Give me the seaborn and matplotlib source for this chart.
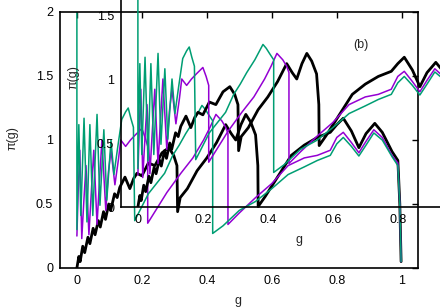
import matplotlib
matplotlib.use("Agg")

import matplotlib.pyplot as plt
import seaborn as sns

# the same curves are drawn in panel (a) and in the shifted panel (b)
teal_g = [0.0, 0.0, 0.006, 0.012, 0.022, 0.031, 0.040, 0.049, 0.062, 0.071, 0.083, 0.092,
          0.105, 0.114, 0.126, 0.138, 0.150, 0.158, 0.166, 0.174, 0.178, 0.200, 0.220, 0.245,
          0.270, 0.295, 0.315, 0.335, 0.360, 0.385, 0.395, 0.405, 0.418, 0.418, 0.450, 0.500,
          0.550, 0.600, 0.650, 0.700, 0.740, 0.780, 0.800, 0.820, 0.845, 0.868, 0.890, 0.914,
          0.940, 0.970, 0.988, 0.994, 0.998]
teal_pi = [2.3, 0.30, 1.12, 0.41, 1.17, 0.36, 1.12, 0.41, 1.20, 0.49, 1.08, 0.53,
           1.00, 0.73, 0.95, 1.16, 1.22, 1.25, 1.17, 1.10, 0.37, 0.48, 0.58, 0.66,
           0.74, 0.88, 0.96, 1.05, 1.15, 1.27, 1.24, 1.20, 1.15, 0.27, 0.33, 0.45,
           0.52, 0.62, 0.73, 0.79, 0.84, 0.88, 0.97, 1.02, 0.95, 0.875, 0.96, 1.055,
           1.00, 0.87, 0.80, 0.50, 0.05]

purple_g = [0.0, 0.004, 0.009, 0.015, 0.022, 0.028, 0.037, 0.045, 0.052, 0.062, 0.070, 0.077,
            0.089, 0.097, 0.105, 0.117, 0.128, 0.135, 0.150, 0.165, 0.180, 0.200, 0.210, 0.218,
            0.218, 0.250, 0.277, 0.320, 0.357, 0.390, 0.410, 0.428, 0.446, 0.458, 0.465, 0.465,
            0.500, 0.550, 0.600, 0.650, 0.700, 0.740, 0.780, 0.800, 0.820, 0.845, 0.868, 0.890,
            0.914, 0.940, 0.970, 0.988, 0.994, 0.998]
purple_pi = [0.25, 0.60, 0.92, 0.23, 0.55, 0.80, 0.26, 0.62, 0.92, 0.34, 0.70, 1.00,
             0.45, 0.75, 0.92, 0.65, 0.85, 1.00, 0.95, 1.00, 1.04, 1.09, 1.02, 0.95,
             0.35, 0.48, 0.59, 0.74, 0.86, 1.00, 1.10, 1.20, 1.15, 1.10, 1.05, 0.34,
             0.43, 0.55, 0.66, 0.80, 0.86, 0.88, 0.92, 1.02, 1.06, 0.98, 0.90, 0.99,
             1.08, 1.02, 0.88, 0.82, 0.50, 0.05]

black_g = [0.000, 0.006, 0.010, 0.018, 0.024, 0.034, 0.040, 0.050, 0.056, 0.066, 0.072, 0.082,
           0.088, 0.098, 0.104, 0.116, 0.124, 0.132, 0.148, 0.163, 0.175, 0.185, 0.200, 0.220,
           0.240, 0.262, 0.283, 0.298, 0.308, 0.310, 0.318, 0.340, 0.370, 0.400, 0.430, 0.458,
           0.475, 0.489, 0.505, 0.520, 0.535, 0.550, 0.557, 0.558, 0.580, 0.620, 0.660, 0.700,
           0.740, 0.780, 0.800, 0.820, 0.845, 0.868, 0.890, 0.917, 0.940, 0.970, 0.988, 0.994,
           0.998]
black_pi = [0.00, 0.09, 0.05, 0.17, 0.12, 0.24, 0.19, 0.31, 0.26, 0.37, 0.32, 0.44,
            0.38, 0.50, 0.45, 0.58, 0.55, 0.63, 0.71, 0.62, 0.70, 0.74, 0.72, 0.82,
            0.80, 0.90, 0.94, 0.88, 0.80, 0.44, 0.55, 0.62, 0.76, 0.86, 0.98, 1.12,
            1.05, 1.00, 1.12, 1.20, 1.14, 1.04, 0.80, 0.48, 0.56, 0.72, 0.88, 0.96,
            1.02, 1.06, 1.12, 1.17, 1.07, 0.94, 1.05, 1.13, 1.06, 0.91, 0.84, 0.50,
            0.05]

x_ticks = [0, 0.2, 0.4, 0.6, 0.8, 1]
x_tick_labels = ["0", "0.2", "0.4", "0.6", "0.8", "1"]
y_ticks = [0, 0.5, 1, 1.5, 2]
y_tick_labels = ["0", "0.5", "1", "1.5", "2"]

sns.set_style("white")
plt.rcParams["font.family"] = ["Liberation Sans", "DejaVu Sans"]

fig = plt.figure(figsize=(4.4, 3.08), dpi=100)
ax_a = fig.add_axes([60 / 440, 40 / 308, 358 / 440, 256 / 308])
ax_b = fig.add_axes([121 / 440, 101 / 308, 358 / 440, 256 / 308])
ax_b.set_facecolor("none")

curves = [
    (black_g, black_pi, "black", 2.0),
    (purple_g, purple_pi, "#9400d3", 1.1),
    (teal_g, teal_pi, "#009e73", 1.1),
]

for ax in (ax_a, ax_b):
    for g, pi, color, lw in curves:
        sns.lineplot(x=g, y=pi, ax=ax, color=color, lw=lw, sort=False, estimator=None)
    ax.set_xlim(-0.052, 1.05)
    ax.set_ylim(0, 2)
    ax.tick_params(direction="in", length=4, width=1, labelsize=9, pad=5, colors="black")
    for sp in ax.spines.values():
        sp.set_color("black")
        sp.set_linewidth(1.2)
    ax.set_xlabel("g", fontsize=9)
    ax.set_ylabel("π(g)", fontsize=9)
    ax.xaxis.set_label_coords(0.497, -0.127)
    ax.yaxis.set_label_coords(-0.132, 0.506)
    ax.xaxis.label.set_va("center")
    ax.yaxis.label.set_va("center")

ax_a.set_xticks(x_ticks, x_tick_labels)
ax_a.set_yticks(y_ticks, y_tick_labels)
ax_a.tick_params(top=True, right=True)

# panel (b) runs off the figure to the top and right: only its visible ticks get labels
ax_b.set_xticks(x_ticks[:-1], x_tick_labels[:-1])
ax_b.set_yticks(y_ticks[:-1], y_tick_labels[:-1])
ax_b.spines["top"].set_visible(False)
ax_b.spines["right"].set_visible(False)

fig.text(361 / 440, 1 - 45 / 308, "(b)", fontsize=9, ha="center", va="center")

fig.savefig("out.png", dpi=100)
plt.close(fig)
